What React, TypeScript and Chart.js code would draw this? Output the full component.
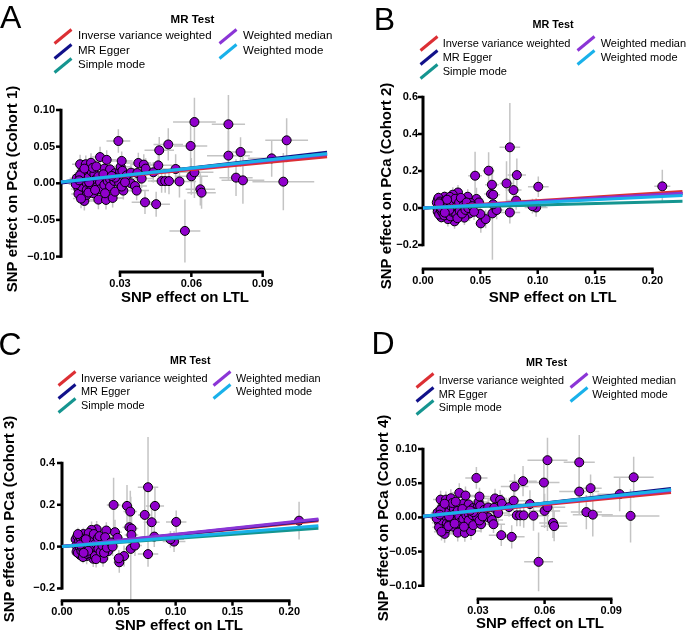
import React, { useEffect, useRef } from "react";
import { Chart, registerables } from "chart.js";

Chart.register(...registerables);

const FONT = "'Liberation Sans', Arial, Helvetica, sans-serif";

// ---------------- legend / methods ----------------
const methods = ["Inverse variance weighted", "MR Egger", "Simple mode", "Weighted median", "Weighted mode"];
const methodColors = ["#dc2f34", "#11118a", "#159590", "#8b35d6", "#19b1ea"];
const methodOrder = [5, 4, 3, 2, 1];

// ---------------- Cohort 1 (and Cohort 4, identical points) ----------------
const ltl1 = [0.0118,0.0125,0.0125,0.0125,0.0132,0.0139,0.0139,0.0146,0.0150,0.0153,
0.0156,0.0160,0.0160,0.0160,0.0167,0.0176,0.0178,0.0181,0.0181,0.0192,
0.0188,0.0195,0.0202,0.0209,0.0209,0.0216,0.0216,0.0216,0.0234,0.0234,
0.0237,0.0241,0.0244,0.0248,0.0258,0.0258,0.0258,0.0269,0.0276,0.0279,
0.0279,0.0293,0.0296,0.0300,0.0303,0.0307,0.0310,0.0314,0.0328,0.0346,
0.0346,0.0363,0.0370,0.0373,0.0377,0.0400,0.0405,0.0408,0.0440,0.0452,
0.0461,0.0465,0.0475,0.0490,0.0503,0.0506,0.0534,0.0550,0.0573,0.0597,
0.0600,0.0613,0.0613,0.0638,0.0643,0.0756,0.0756,0.0788,0.0807,0.0817,
0.0938,0.0987,0.1001,0.0114,0.0132,0.0136,0.0167,0.0170,0.0185,0.0195,
0.0230,0.0237,0.0279,0.0307,0.0321,0.0391,0.0150,0.0200,0.0265,0.0128];
const pca1 = [0.0068,0.0000,-0.0077,-0.0145,0.0260,0.0145,-0.0045,0.0041,-0.0241,0.0170,
0.0260,0.0000,-0.0090,-0.0159,0.0077,-0.0059,0.0280,0.0160,-0.0032,0.0125,
-0.0136,0.0045,-0.0050,0.0095,-0.0223,0.0014,0.0358,-0.0082,0.0200,-0.0023,
0.0086,-0.0227,0.0320,0.0030,0.0190,0.0055,-0.0045,-0.0200,0.0032,0.0136,
-0.0114,0.0577,0.0010,0.0159,0.0225,0.0305,0.0170,-0.0100,0.0109,0.0145,
0.0000,-0.0037,-0.0100,0.0140,0.0277,0.0255,-0.0260,0.0200,0.0150,-0.0285,
0.0245,0.0450,0.0030,0.0030,0.0530,0.0030,0.0195,0.0025,-0.0650,0.0509,
0.0095,0.0836,0.0150,-0.0082,-0.0128,0.0805,0.0377,0.0077,0.0427,0.0040,
0.0340,0.0022,0.0586,-0.0014,0.0109,-0.0209,-0.0127,0.0014,0.0210,-0.0091,
0.0123,-0.0136,0.0077,-0.0045,0.0014,0.0064,0.0200,0.0230,0.0100,0.0040];
const ltlSe1 = [0.0030,0.0030,0.0032,0.0030,0.0034,0.0030,0.0032,0.0030,0.0034,0.0032,
0.0032,0.0034,0.0030,0.0034,0.0036,0.0034,0.0038,0.0036,0.0034,0.0038,
0.0036,0.0036,0.0038,0.0040,0.0038,0.0040,0.0042,0.0038,0.0042,0.0040,
0.0040,0.0044,0.0042,0.0040,0.0044,0.0042,0.0044,0.0046,0.0042,0.0044,
0.0046,0.0050,0.0044,0.0046,0.0048,0.0046,0.0048,0.0048,0.0046,0.0050,
0.0048,0.0050,0.0052,0.0050,0.0054,0.0052,0.0056,0.0054,0.0056,0.0058,
0.0060,0.0062,0.0058,0.0060,0.0062,0.0064,0.0060,0.0070,0.0065,0.0070,
0.0070,0.0090,0.0080,0.0062,0.0060,0.0070,0.0090,0.0070,0.0050,0.0090,
0.0100,0.0130,0.0090,0.0030,0.0032,0.0034,0.0036,0.0034,0.0038,0.0036,
0.0040,0.0042,0.0044,0.0046,0.0046,0.0050,0.0032,0.0038,0.0042,0.0030];
const pcaSe1 = [0.011,0.010,0.011,0.012,0.013,0.011,0.010,0.010,0.013,0.012,
0.012,0.010,0.011,0.012,0.011,0.010,0.013,0.012,0.010,0.011,
0.012,0.010,0.011,0.011,0.013,0.010,0.014,0.011,0.012,0.010,
0.011,0.013,0.013,0.010,0.012,0.011,0.011,0.013,0.010,0.011,
0.012,0.016,0.011,0.012,0.012,0.013,0.012,0.012,0.011,0.012,
0.011,0.012,0.013,0.013,0.014,0.014,0.016,0.014,0.014,0.017,
0.016,0.018,0.016,0.016,0.022,0.018,0.020,0.022,0.043,0.030,
0.025,0.033,0.035,0.022,0.022,0.040,0.034,0.025,0.020,0.032,
0.025,0.039,0.030,0.010,0.011,0.013,0.012,0.010,0.012,0.011,
0.011,0.012,0.011,0.011,0.011,0.013,0.012,0.012,0.011,0.010];

// ---------------- Cohorts 2 and 3 (shared SNP set) ----------------
const ltl23 = [0.0757,0.0572,0.0454,0.0818,0.0601,0.0728,0.0789,0.1005,0.2086,0.0593,
0.0612,0.0757,0.0504,0.0546,0.0986,0.0954,0.0812,0.0466,0.0605,0.0642,
0.0500,0.0488,0.0611,0.0405,0.0361,0.0275,0.0217,0.0160,0.0390,0.0305,
0.0260,0.0188,0.0130,0.0245,0.0347,0.0415,0.0286,0.0144,0.0202,0.0120,
0.0125,0.0128,0.0135,0.0140,0.0150,0.0155,0.0165,0.0170,0.0178,0.0185,
0.0195,0.0200,0.0210,0.0220,0.0228,0.0235,0.0240,0.0250,0.0255,0.0265,
0.0270,0.0280,0.0290,0.0295,0.0300,0.0315,0.0320,0.0330,0.0340,0.0355,
0.0370,0.0380,0.0395,0.0430,0.0445,0.0160,0.0210,0.0230,0.0140,0.0190];
const ltlSe23 = [0.009,0.005,0.006,0.008,0.006,0.006,0.007,0.009,0.007,0.006,
0.006,0.009,0.005,0.005,0.010,0.012,0.008,0.006,0.006,0.006,
0.005,0.005,0.006,0.005,0.005,0.004,0.004,0.003,0.005,0.004,
0.004,0.004,0.003,0.004,0.004,0.005,0.004,0.003,0.004,0.003,
0.003,0.003,0.003,0.003,0.003,0.003,0.004,0.004,0.004,0.004,
0.004,0.004,0.004,0.004,0.004,0.004,0.004,0.004,0.004,0.004,
0.004,0.004,0.004,0.004,0.004,0.004,0.004,0.004,0.004,0.005,
0.005,0.005,0.005,0.005,0.005,0.003,0.004,0.004,0.003,0.004];
const pca2 = [0.328,0.2016,0.1746,0.178,0.126,0.133,0.097,0.115,0.117,0.0757,
0.072,-0.024,-0.083,-0.060,0.003,0.010,0.040,0.049,-0.029,-0.011,
-0.0325,0.030,0.020,-0.030,-0.052,-0.072,-0.060,-0.050,0.061,0.084,
0.072,0.061,0.045,0.045,0.041,0.027,0.024,0.015,0.010,0.030,
0.000,-0.020,0.055,-0.035,0.035,-0.010,0.020,-0.025,0.005,-0.040,
0.040,-0.015,0.025,-0.030,0.000,0.060,-0.045,0.015,-0.020,0.035,
-0.005,0.050,-0.035,0.010,-0.055,0.030,-0.015,0.055,-0.030,0.015,
-0.010,0.030,0.000,0.010,-0.020,0.000,0.045,-0.010,0.025,-0.025];
const pca3 = [0.284,0.1947,0.1995,0.1947,0.1675,0.1517,0.1167,0.118,0.124,0.0928,
0.086,-0.036,-0.075,-0.045,0.024,0.035,0.048,0.069,-0.011,0.005,
-0.056,0.042,0.056,-0.022,-0.057,-0.058,-0.045,-0.040,0.077,0.083,
0.080,0.060,0.040,0.055,0.035,0.010,0.030,0.020,0.015,0.035,
0.005,-0.025,0.050,-0.030,0.025,0.000,0.040,-0.020,-0.005,-0.050,
0.030,-0.010,0.020,-0.035,0.010,0.065,-0.030,0.025,-0.015,0.040,
0.000,0.060,-0.045,0.015,-0.060,0.040,-0.010,0.050,-0.025,0.005,
-0.030,0.045,-0.005,0.020,0.000,0.010,0.035,-0.020,0.060,-0.030];
const pcaSe23 = [0.24,0.10,0.13,0.09,0.10,0.12,0.07,0.055,0.09,0.08,
0.07,0.06,0.05,0.05,0.05,0.04,0.05,0.06,0.25,0.05,
0.04,0.04,0.05,0.04,0.04,0.04,0.04,0.03,0.04,0.04,
0.04,0.03,0.03,0.03,0.035,0.035,0.03,0.03,0.03,0.03,
0.025,0.03,0.03,0.03,0.03,0.025,0.03,0.03,0.025,0.03,
0.03,0.03,0.03,0.03,0.03,0.035,0.035,0.03,0.03,0.035,
0.03,0.035,0.035,0.03,0.04,0.035,0.035,0.04,0.04,0.035,
0.04,0.04,0.04,0.04,0.045,0.025,0.03,0.03,0.03,0.03];

// ---------------- MR estimates (slope, intercept) per method ----------------
const slopes1 = [0.31, 0.375, 0.345, 0.335, 0.345];
const intercepts1 = [0, -0.0015, 0, 0, 0];
const slopes2 = [0.395, 0.34, 0.16, 0.35, 0.30];
const intercepts2 = [0, 0, 0, 0, 0];
const slopes3 = [0.55, 0.57, 0.39, 0.585, 0.44];
const intercepts3 = [0, 0, 0, 0, 0];

// ---------------- ticks ----------------
const xTicks14 = [0.03, 0.06, 0.09];
const xTickLabels14 = ["0.03", "0.06", "0.09"];
const yTicks14 = [-0.1, -0.05, 0, 0.05, 0.1];
const yTickLabels14 = ["\u22120.10", "\u22120.05", "0.00", "0.05", "0.10"];
const xTicks23 = [0, 0.05, 0.1, 0.15, 0.2];
const xTickLabels23 = ["0.00", "0.05", "0.10", "0.15", "0.20"];
const yTicks2 = [-0.2, 0, 0.2, 0.4, 0.6];
const yTickLabels2 = ["\u22120.2", "0.0", "0.2", "0.4", "0.6"];
const yTicks3 = [-0.2, 0, 0.2, 0.4];
const yTickLabels3 = ["\u22120.2", "0.0", "0.2", "0.4"];

const W = 344;
const H = 316;

const panels = [
  {
    letter: "A", left: 0, top: 0, letterPos: { x: 0, y: 0.8 }, yTitle: "SNP effect on PCa (Cohort 1)",
    ltl: ltl1, ltlSe: ltlSe1, pca: pca1, pcaSe: pcaSe1, slopes: slopes1, intercepts: intercepts1,
    xMin: 0.00517, xMax: 0.1095, lineXMax: 0.1171, yMin: -0.1156, yMax: 0.1,
    xTicks: xTicks14, xTickLabels: xTickLabels14, yTicks: yTicks14, yTickLabels: yTickLabels14,
    area: { l: 61, r: 309, t: 110, b: 268 }, yTickPad: 6, xTickPad: 9, xLineOffset: 4, yTitlePad: 5, xTitlePad: 10.5,
    legend: { fsT: 11.5, fs: 11.5, tx: 192.5, ty: 19.5, rows: [36, 51, 65], m1: 54, t1: 78, m2: 219, t2: 243 },
  },
  {
    letter: "B", left: 344, top: 0, letterPos: { x: 29.7, y: 2.5 }, yTitle: "SNP effect on PCa (Cohort 2)",
    ltl: ltl23, ltlSe: ltlSe23, pca: pca2, pcaSe: pcaSe23, slopes: slopes2, intercepts: intercepts2,
    xMin: 0, xMax: 0.2262, lineXMax: 0.2262, yMin: -0.362, yMax: 0.6,
    xTicks: xTicks23, xTickLabels: xTickLabels23, yTicks: yTicks2, yTickLabels: yTickLabels2,
    area: { l: 79, r: 340, t: 97, b: 275 }, yTickPad: 5, xTickPad: -1, xLineOffset: -6, yTitlePad: 35.8, xTitlePad: 10.5,
    legend: { fsT: 10.8, fs: 11, tx: 209, ty: 24, rows: [43.5, 57.8, 71.5], m1: 76, t1: 98.7, m2: 233.3, t2: 256.7 },
  },
  {
    letter: "C", left: 0, top: 316, letterPos: { x: -1.5, y: 11.5 }, yTitle: "SNP effect on PCa (Cohort 3)",
    ltl: ltl23, ltlSe: ltlSe23, pca: pca3, pcaSe: pcaSe23, slopes: slopes3, intercepts: intercepts3,
    xMin: 0, xMax: 0.2059, lineXMax: 0.2256, yMin: -0.2029, yMax: 0.467,
    xTicks: xTicks23, xTickLabels: xTickLabels23, yTicks: yTicks3, yTickLabels: yTickLabels3,
    area: { l: 62, r: 296, t: 133, b: 273 }, yTickPad: 7, xTickPad: 16, xLineOffset: 11.7, yTitlePad: 2.5, xTitlePad: -1,
    legend: { fsT: 10.6, fs: 10.9, tx: 190.3, ty: 44.8, rows: [62.3, 75.8, 89.8], m1: 58.3, t1: 81, m2: 213.3, t2: 236 },
  },
  {
    letter: "D", left: 344, top: 316, letterPos: { x: 27.6, y: 10.5 }, yTitle: "SNP effect on PCa (Cohort 4)",
    ltl: ltl1, ltlSe: ltlSe1, pca: pca1, pcaSe: pcaSe1, slopes: slopes1, intercepts: intercepts1,
    xMin: 0.00527, xMax: 0.1106, lineXMax: 0.1169, yMin: -0.1018, yMax: 0.1,
    xTicks: xTicks14, xTickLabels: xTickLabels14, yTicks: yTicks14, yTickLabels: yTickLabels14,
    area: { l: 79, r: 313, t: 133, b: 271 }, yTickPad: 6, xTickPad: 17, xLineOffset: 12, yTitlePad: 32.5, xTitlePad: 0.5,
    legend: { fsT: 10.8, fs: 10.8, tx: 202.5, ty: 46.5, rows: [64.5, 78, 91.5], m1: 72.7, t1: 94.7, m2: 226.7, t2: 248.3 },
  },
];

// Draws error bars (under the points) and GraphPad-style offset axes.
const gpPlugin = {
  id: "gp",
  beforeDatasetsDraw(chart: any, _args: any, opts: any) {
    const ctx = chart.ctx;
    const xs = chart.scales.x;
    const ys = chart.scales.y;
    const ca = chart.chartArea;
    ctx.save();
    ctx.strokeStyle = "#c4c4c4";
    ctx.lineWidth = 1.5;
    chart.data.datasets.forEach((ds: any) => {
      if (!ds.errorBars) return;
      ds.data.forEach((p: any) => {
        if (!isFinite(p.x) || !isFinite(p.y)) return;
        const cx = xs.getPixelForValue(p.x);
        const cy = ys.getPixelForValue(p.y);
        ctx.beginPath();
        ctx.moveTo(xs.getPixelForValue(p.x - p.xse), cy);
        ctx.lineTo(xs.getPixelForValue(p.x + p.xse), cy);
        ctx.moveTo(cx, ys.getPixelForValue(p.y - p.yse));
        ctx.lineTo(cx, ys.getPixelForValue(p.y + p.yse));
        ctx.stroke();
      });
    });
    ctx.strokeStyle = "#000";
    ctx.lineCap = "butt";
    // y axis
    const yT = opts.yTicks;
    const ax = ca.left;
    const yTop = ys.getPixelForValue(yT[yT.length - 1]);
    const yBot = ys.getPixelForValue(yT[0]);
    ctx.lineWidth = 3;
    ctx.beginPath();
    ctx.moveTo(ax, yTop - 1.25);
    ctx.lineTo(ax, yBot + 1.25);
    ctx.stroke();
    ctx.lineWidth = 2.5;
    yT.forEach((v: number) => {
      const py = ys.getPixelForValue(v);
      ctx.beginPath();
      ctx.moveTo(ax - 5, py);
      ctx.lineTo(ax, py);
      ctx.stroke();
    });
    // x axis
    const xT = opts.xTicks;
    const ay = ca.bottom + opts.xLineOffset;
    const xL = xs.getPixelForValue(xT[0]);
    const xR = xs.getPixelForValue(xT[xT.length - 1]);
    ctx.lineWidth = 3;
    ctx.beginPath();
    ctx.moveTo(xL - 1.25, ay);
    ctx.lineTo(xR + 1.25, ay);
    ctx.stroke();
    ctx.lineWidth = 2.5;
    xT.forEach((v: number) => {
      const px = xs.getPixelForValue(v);
      ctx.beginPath();
      ctx.moveTo(px, ay);
      ctx.lineTo(px, ay + 5);
      ctx.stroke();
    });
    ctx.restore();
  },
};

function PanelChart({ cfg }: { cfg: any }) {
  const ref = useRef<HTMLCanvasElement>(null);
  useEffect(() => {
    const canvas = ref.current;
    if (!canvas) return;
    const points = cfg.ltl.map((x: number, i: number) => ({
      x,
      y: cfg.pca[i],
      xse: cfg.ltlSe[i],
      yse: cfg.pcaSe[i],
    }));
    const lineSets = methods.map((m, k) => ({
      label: m,
      data: [
        { x: cfg.xMin, y: cfg.intercepts[k] + cfg.slopes[k] * cfg.xMin },
        { x: cfg.lineXMax, y: cfg.intercepts[k] + cfg.slopes[k] * cfg.lineXMax },
      ],
      showLine: true,
      borderColor: methodColors[k],
      backgroundColor: methodColors[k],
      borderWidth: 3,
      pointRadius: 0,
      clip: false,
      order: methodOrder[k],
    }));
    const tickFont = { family: FONT, size: 11, weight: "bold" as const };
    const titleFont = { family: FONT, size: 15, weight: "bold" as const, lineHeight: 1 };
    const chart = new Chart(canvas, {
      type: "scatter",
      data: {
        datasets: [
          {
            label: "SNPs",
            data: points,
            backgroundColor: "#9000cc",
            borderColor: "#000000",
            borderWidth: 1,
            pointRadius: 4.5,
            clip: false,
            order: 10,
            errorBars: true,
          } as any,
          ...lineSets,
        ],
      },
      options: {
        responsive: false,
        animation: false,
        events: [],
        layout: { padding: { left: 0, top: cfg.area.t, right: W - cfg.area.r, bottom: 0 } },
        plugins: {
          legend: { display: false },
          tooltip: { enabled: false },
          gp: { xTicks: cfg.xTicks, yTicks: cfg.yTicks, xLineOffset: cfg.xLineOffset },
        } as any,
        scales: {
          x: {
            type: "linear",
            min: cfg.xMin,
            max: cfg.xMax,
            grid: { display: false, drawTicks: false },
            border: { display: false },
            afterBuildTicks: (axis: any) => {
              axis.ticks = cfg.xTicks.map((v: number) => ({ value: v }));
            },
            afterFit: (axis: any) => {
              axis.height = H - cfg.area.b;
            },
            ticks: {
              padding: cfg.xTickPad,
              font: tickFont,
              color: "#000",
              autoSkip: false,
              maxRotation: 0,
              callback: (_v: any, i: number) => cfg.xTickLabels[i],
            },
            title: {
              display: true,
              text: "SNP effect on LTL",
              font: titleFont,
              color: "#000",
              padding: { top: 0, bottom: cfg.xTitlePad },
            },
          },
          y: {
            type: "linear",
            min: cfg.yMin,
            max: cfg.yMax,
            grid: { display: false, drawTicks: false },
            border: { display: false },
            afterBuildTicks: (axis: any) => {
              axis.ticks = cfg.yTicks.map((v: number) => ({ value: v }));
            },
            afterFit: (axis: any) => {
              axis.width = cfg.area.l;
            },
            ticks: {
              padding: cfg.yTickPad,
              font: tickFont,
              color: "#000",
              autoSkip: false,
              callback: (_v: any, i: number) => cfg.yTickLabels[i],
            },
            title: {
              display: true,
              text: cfg.yTitle,
              font: titleFont,
              color: "#000",
              padding: { top: cfg.yTitlePad, bottom: 0 },
            },
          },
        },
      },
      plugins: [gpPlugin],
    } as any);
    return () => chart.destroy();
  }, [cfg]);

  const lg = cfg.legend;
  const marker = (x: number, y: number, color: string) => (
    <div
      style={{
        position: "absolute",
        left: x + 8.5 - 11,
        top: y - 1.5,
        width: 22,
        height: 3,
        background: color,
        transform: "rotate(-39.5deg)",
        transformOrigin: "50% 50%",
      }}
    />
  );
  const text = (x: number, y: number, s: string) => (
    <div
      style={{
        position: "absolute",
        left: x,
        top: y - lg.fs * 0.6,
        fontSize: lg.fs,
        lineHeight: `${lg.fs * 1.2}px`,
        whiteSpace: "nowrap",
        color: "#000",
      }}
    >
      {s}
    </div>
  );
  const col1 = [0, 1, 2];
  const col2 = [3, 4];

  return (
    <div style={{ position: "absolute", left: cfg.left, top: cfg.top, width: W, height: H, fontFamily: FONT }}>
      <canvas ref={ref} width={W} height={H} style={{ position: "absolute", left: 0, top: 0, width: W, height: H }} />
      <div
        style={{
          position: "absolute",
          left: cfg.letterPos.x,
          top: cfg.letterPos.y,
          fontSize: 32,
          lineHeight: "32px",
          color: "#000",
        }}
      >
        {cfg.letter}
      </div>
      <div
        style={{
          position: "absolute",
          left: lg.tx - 60,
          width: 120,
          top: lg.ty - lg.fsT * 0.6,
          textAlign: "center",
          fontWeight: "bold",
          fontSize: lg.fsT,
          lineHeight: `${lg.fsT * 1.2}px`,
          color: "#000",
        }}
      >
        MR Test
      </div>
      {col1.map((k, r) => (
        <React.Fragment key={"a" + k}>
          {marker(lg.m1, lg.rows[r], methodColors[k])}
          {text(lg.t1, lg.rows[r], methods[k])}
        </React.Fragment>
      ))}
      {col2.map((k, r) => (
        <React.Fragment key={"b" + k}>
          {marker(lg.m2, lg.rows[r], methodColors[k])}
          {text(lg.t2, lg.rows[r], methods[k])}
        </React.Fragment>
      ))}
    </div>
  );
}

export default function App() {
  return (
    <div style={{ position: "absolute", left: 0, top: 0, width: 688, height: 632, background: "#fff" }}>
      {panels.map((p) => (
        <PanelChart key={p.letter} cfg={p} />
      ))}
    </div>
  );
}
